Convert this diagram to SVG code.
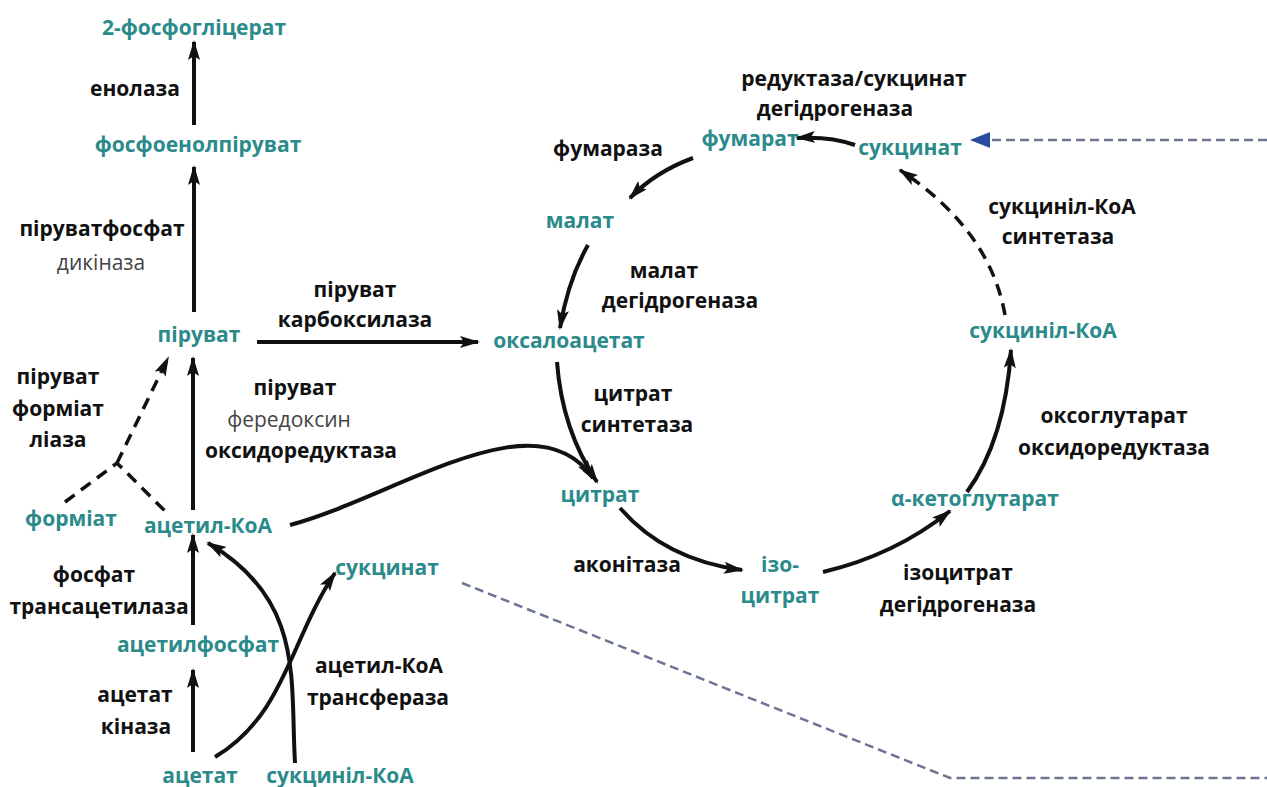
<svg xmlns="http://www.w3.org/2000/svg" width="1267" height="787" viewBox="0 0 1267 787">
<defs>
<marker id="ah" markerUnits="userSpaceOnUse" markerWidth="20" markerHeight="12" refX="18" refY="6" orient="auto">
<path d="M0,0 L20,6 L0,12 L4,6 z" fill="#111"/>
</marker>
<marker id="ahb" markerUnits="userSpaceOnUse" markerWidth="20" markerHeight="16" refX="18" refY="8" orient="auto">
<path d="M0,0 L20,8 L0,16 z" fill="#2a4ba0"/>
</marker>
<style>
text{font-family:"Open Sans","Noto Sans",sans-serif;font-size:21px;text-anchor:middle}
.m{fill:#2b8a8a;font-weight:bold}
.e{fill:#111;font-weight:bold}
.g{fill:#444;font-weight:normal}
.c{fill:none;stroke:#111;stroke-width:4}
.d{fill:none;stroke:#111;stroke-width:3.5;stroke-dasharray:12 8}
.b{fill:none;stroke:#6e7494;stroke-width:2.5;stroke-dasharray:9 5}
</style>
</defs>
<rect width="1267" height="787" fill="#fff"/>
<g id="connectors">
<path class="c" d="M194 125 L194 42" marker-end="url(#ah)"/>
<path class="c" d="M194 312 L194 167" marker-end="url(#ah)"/>
<path class="c" d="M257 342 L478 342" marker-end="url(#ah)"/>
<path class="c" d="M193 510 L193 358" marker-end="url(#ah)"/>
<path class="d" d="M117 463 L168 358" marker-end="url(#ah)"/>
<path class="d" d="M65 502 L117 463 L167 513"/>
<path class="c" d="M290 525 C400 495 535 395 593 478" marker-end="url(#ah)"/>
<path class="c" d="M193 625 L193 535" marker-end="url(#ah)"/>
<path class="c" d="M193 752 L193 670" marker-end="url(#ah)"/>
<path class="c" d="M215 757 C285 715 290 640 335 573" marker-end="url(#ah)"/>
<path class="c" d="M295 763 C290 680 305 600 208 543" marker-end="url(#ah)"/>
<path class="c" d="M693 158 Q655 172 630 198" marker-end="url(#ah)"/>
<path class="c" d="M588 245 Q568 280 560 328" marker-end="url(#ah)"/>
<path class="c" d="M557 362 Q562 430 597 482" marker-end="url(#ah)"/>
<path class="c" d="M620 508 Q665 560 742 570" marker-end="url(#ah)"/>
<path class="c" d="M823 572 Q895 555 950 511" marker-end="url(#ah)"/>
<path class="c" d="M967 492 Q1005 440 1011 350" marker-end="url(#ah)"/>
<path class="d" d="M1005 315 Q990 230 900 170" marker-end="url(#ah)"/>
<path class="c" d="M855 145 Q830 136 797 138" marker-end="url(#ah)"/>
<path class="b" d="M1267 140 L972 140" marker-end="url(#ahb)"/>
<path class="b" d="M462 583 L950 778 L1267 778"/>
</g>
<g id="n-2pg"><text class="m" x="194" y="35">2-фосфогліцерат</text></g>
<g id="l-enolase"><text class="e" x="135" y="96">енолаза</text></g>
<g id="n-pep"><text class="m" x="198" y="152">фосфоенолпіруват</text></g>
<g id="l-ppdk"><text class="e" x="102" y="236">піруватфосфат</text><text class="g" x="101" y="270">дикіназа</text></g>
<g id="n-pyr"><text class="m" x="199" y="342">піруват</text></g>
<g id="l-pc"><text class="e" x="355" y="297">піруват</text><text class="e" x="355" y="327">карбоксилаза</text></g>
<g id="n-oaa"><text class="m" x="569" y="348">оксалоацетат</text></g>
<g id="l-pfor"><text class="e" x="295" y="395">піруват</text><text class="g" x="289" y="427">фередоксин</text><text class="e" x="301" y="458">оксидоредуктаза</text></g>
<g id="l-pfl"><text class="e" x="58" y="384">піруват</text><text class="e" x="58" y="416">форміат</text><text class="e" x="58" y="447">ліаза</text></g>
<g id="n-formate"><text class="m" x="71" y="526">форміат</text></g>
<g id="n-acoa"><text class="m" x="208" y="533">ацетил-КоА</text></g>
<g id="l-pta"><text class="e" x="94" y="582">фосфат</text><text class="e" x="99" y="614">трансацетилаза</text></g>
<g id="n-acp"><text class="m" x="198" y="652">ацетилфосфат</text></g>
<g id="l-ack"><text class="e" x="135" y="702">ацетат</text><text class="e" x="136" y="734">кіназа</text></g>
<g id="n-acetate"><text class="m" x="200" y="783">ацетат</text></g>
<g id="n-scoa-b"><text class="m" x="340" y="783">сукциніл-КоА</text></g>
<g id="l-act"><text class="e" x="379" y="673">ацетил-КоА</text><text class="e" x="378" y="705">трансфераза</text></g>
<g id="n-succ-b"><text class="m" x="387" y="575">сукцинат</text></g>
<g id="l-frd"><text class="e" x="854" y="86">редуктаза/сукцинат</text><text class="e" x="835" y="116">дегідрогеназа</text></g>
<g id="n-fum"><text class="m" x="750" y="146">фумарат</text></g>
<g id="n-succ"><text class="m" x="910" y="155">сукцинат</text></g>
<g id="l-fumarase"><text class="e" x="608" y="156">фумараза</text></g>
<g id="n-mal"><text class="m" x="580" y="228">малат</text></g>
<g id="l-mdh"><text class="e" x="664" y="278">малат</text><text class="e" x="680" y="308">дегідрогеназа</text></g>
<g id="l-scs"><text class="e" x="1062" y="214">сукциніл-КоА</text><text class="e" x="1058" y="244">синтетаза</text></g>
<g id="n-scoa"><text class="m" x="1043" y="338">сукциніл-КоА</text></g>
<g id="l-cs"><text class="e" x="633" y="401">цитрат</text><text class="e" x="637" y="432">синтетаза</text></g>
<g id="l-ogor"><text class="e" x="1114" y="423">оксоглутарат</text><text class="e" x="1114" y="455">оксидоредуктаза</text></g>
<g id="n-cit"><text class="m" x="600" y="502">цитрат</text></g>
<g id="n-akg"><text class="m" x="975" y="506">α-кетоглутарат</text></g>
<g id="l-acn"><text class="e" x="627" y="572">аконітаза</text></g>
<g id="n-icit"><text class="m" x="780" y="572">ізо-</text><text class="m" x="780" y="603">цитрат</text></g>
<g id="l-idh"><text class="e" x="958" y="580">ізоцитрат</text><text class="e" x="958" y="612">дегідрогеназа</text></g>
</svg>
